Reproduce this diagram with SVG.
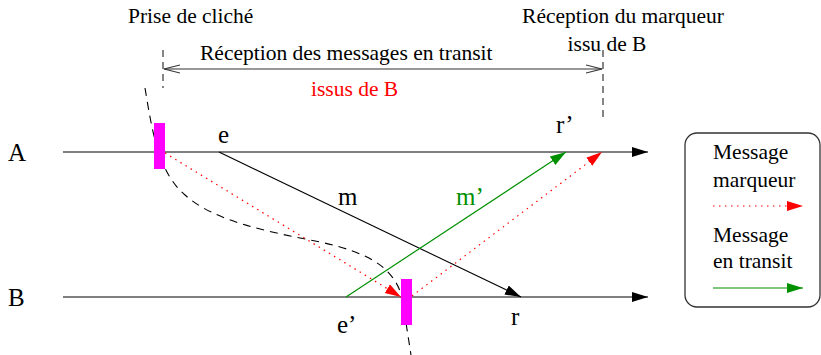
<svg xmlns="http://www.w3.org/2000/svg" width="821" height="355" viewBox="0 0 821 355">
<style>
text{font-family:"Liberation Serif","Times New Roman",serif;font-size:21.5px;fill:#000}
.big{font-size:25px}
.red{fill:#ff0000}
.green{fill:#009000}
.axis{stroke:#000;stroke-width:1.2;fill:none}
.dash{stroke:#000;stroke-width:1.1;fill:none;stroke-dasharray:8,6}
.vdash{stroke:#444;stroke-width:1.3;fill:none;stroke-dasharray:7,5}
.msg{stroke:#000;stroke-width:1.1;fill:none}
.mark{stroke:#ff0000;stroke-width:1.2;fill:none;stroke-dasharray:1.5,4.5}
.trans{stroke:#009000;stroke-width:1.2;fill:none}
.snap{fill:#ff00ff}
</style>
<defs>
<marker id="ak" markerUnits="userSpaceOnUse" markerWidth="18" markerHeight="12" refX="16" refY="5" orient="auto"><path d="M0,0 L16,5 L0,10 z" fill="#000"/></marker>
<marker id="ar" markerUnits="userSpaceOnUse" markerWidth="18" markerHeight="12" refX="16" refY="5" orient="auto"><path d="M0,0 L16,5 L0,10 z" fill="#ff0000"/></marker>
<marker id="ag" markerUnits="userSpaceOnUse" markerWidth="18" markerHeight="12" refX="16" refY="5" orient="auto"><path d="M0,0 L16,5 L0,10 z" fill="#009000"/></marker>
<marker id="ao" markerUnits="userSpaceOnUse" markerWidth="18" markerHeight="12" refX="16" refY="5" orient="auto-start-reverse"><path d="M0,1 L16,5 L0,9" fill="none" stroke="#333" stroke-width="1.1"/></marker>
</defs>
<g id="labels">
<text x="128" y="23">Prise de cliché</text>
<text x="623" y="23" text-anchor="middle">Réception du marqueur</text>
<text x="607" y="51" text-anchor="middle">issu de B</text>
<text x="200" y="60">Réception des messages en transit</text>
<text x="311" y="96" class="red">issus de B</text>
</g>
<g id="processA"><line class="axis" x1="63" y1="152" x2="648" y2="152" marker-end="url(#ak)"/><text class="big" x="8" y="161">A</text></g>
<g id="processB"><line class="axis" x1="63" y1="297" x2="648" y2="297" marker-end="url(#ak)"/><text class="big" x="8" y="306">B</text></g>
<g id="connectors">
<line class="vdash" x1="163" y1="50" x2="163" y2="88"/>
<line class="vdash" x1="603" y1="50" x2="603" y2="118"/>
<line x1="164" y1="69" x2="602" y2="69" stroke="#333" stroke-width="1.1" marker-start="url(#ao)" marker-end="url(#ao)"/>
<path class="dash" d="M145,88 C152,130 158,172 185,195 C215,222 270,232 320,242 C365,252 393,265 402,297 L411,355"/>
<line class="msg" x1="219" y1="152" x2="521" y2="297" marker-end="url(#ak)"/>
<line class="mark" x1="165" y1="153" x2="401" y2="297" marker-end="url(#ar)"/>
<line class="trans" x1="346" y1="297" x2="566" y2="152" marker-end="url(#ag)"/>
<line class="mark" x1="412" y1="296" x2="602" y2="152" marker-end="url(#ar)"/>
</g>
<g id="snapA"><rect class="snap" x="154" y="123" width="11" height="46"/></g>
<g id="snapB"><rect class="snap" x="401" y="279" width="11" height="46"/></g>
<g id="eventLabels">
<text class="big" x="218" y="143">e</text>
<text class="big" x="338" y="205">m</text>
<text class="big green" x="456" y="205">m’</text>
<text class="big" x="556" y="133">r’</text>
<text class="big" x="337" y="333">e’</text>
<text class="big" x="511" y="325">r</text>
</g>
<g id="legend">
<rect x="685" y="133" width="135" height="174" rx="12" ry="12" fill="none" stroke="#333" stroke-width="1.3"/>
<text x="713" y="159">Message</text>
<text x="713" y="187">marqueur</text>
<line class="mark" x1="713" y1="206" x2="803" y2="206" marker-end="url(#ar)"/>
<text x="713" y="242">Message</text>
<text x="713" y="268">en transit</text>
<line class="trans" x1="713" y1="288" x2="803" y2="288" marker-end="url(#ag)"/>
</g>
</svg>
